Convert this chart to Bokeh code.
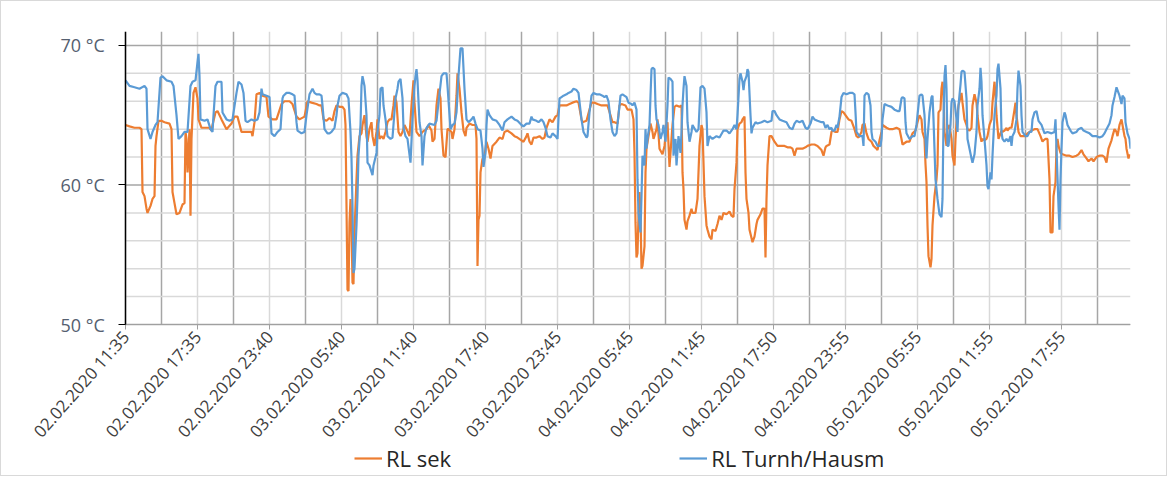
from bokeh.plotting import figure
from bokeh.models import Range1d, FixedTicker, Legend, LegendItem, ColumnDataSource, LinearAxis
from bokeh.embed import file_html
from bokeh.resources import INLINE

# category index (5-minute samples) of labelled ticks and their labels
x_tick_idx = [0, 72, 144, 216, 288, 360, 432, 504, 576, 648, 720, 792, 864, 936]
x_mid_idx = [36, 108, 180, 252, 324, 396, 468, 540, 612, 684, 756, 828, 900, 972]
x_tick_labels = ["02.02.2020 11:35", "02.02.2020 17:35", "02.02.2020 23:40",
                 "03.02.2020 05:40", "03.02.2020 11:40", "03.02.2020 17:40",
                 "03.02.2020 23:45", "04.02.2020 05:45", "04.02.2020 11:45",
                 "04.02.2020 17:50", "04.02.2020 23:55", "05.02.2020 05:55",
                 "05.02.2020 11:55", "05.02.2020 17:55"]
y_ticks = [50, 60, 70]
y_minor = [52, 54, 56, 58, 62, 64, 66, 68]
y_tick_labels = ["50 °C", "60 °C", "70 °C"]
y_min, y_max = 50, 71
n_samples = 1005

# RL sek  (sample index, °C)
sek_1 = [(0,64.3),(4,64.2),(9,64.1),(14,64.1),(16,64.0),(17,59.5),(19,59.2),(21,58.3),(22,58.0),(25,58.5),
         (27,59.0),(29,59.2),(30,62.8),(31,63.5),(33,64.6),(36,64.6),(39,64.5),(44,64.4),(46,64.0),(47,59.5),
         (49,58.7),(51,57.9),(54,58.0),(57,58.6),(59,58.7),(60,63.8),(61,63.3),(62,60.9),(64,64.0),(65,57.8),
         (66,63.3),(68,66.6),(70,67.0),(72,66.2),(73,64.7),(76,64.1),(81,64.1),(84,64.1),(86,63.9),(87,64.3),
         (90,65.2),(92,65.3),(96,64.7),(101,64.0),(106,64.4),(109,64.9),(112,64.9),(116,63.8),(121,63.8),(126,63.8),
         (127,63.5),(129,64.5),(131,66.5),(134,66.6),(137,66.4),(141,66.3),(143,64.9),(147,64.7),(151,64.7),(156,65.8),
         (159,66.0),(164,66.0),(167,65.8),(171,64.9),(174,64.7),(179,64.9),(182,66.0),(186,65.9),(191,65.8),(194,65.7),
         (196,65.7),(198,64.7),(201,64.6),(204,64.8)]
sek_2 = [(207,64.6),(209,65.3),(211,65.7),(214,65.6),(217,65.6),(219,65.4),(220,64.3),(221,58.5),(222,52.5),(223,52.4),
         (224,57.3),(225,59.0),(226,57.1),(227,53.0),(228,52.9),(229,56.6),(231,60.4),(232,62.1),(234,63.5),(236,63.7),
         (237,64.3),(239,65.0),(241,63.5),(242,63.1),(244,64.0),(246,64.5),(247,63.5),(249,62.8),(251,63.8),(252,64.7),
         (254,63.3),(256,63.5),(258,63.3),(260,63.8),(262,64.5),(264,64.7),(266,64.7),(268,65.7),(269,66.4),(271,65.9),
         (273,63.8),(275,63.5),(277,63.8),(279,64.3),(281,64.0),(284,63.5),(286,65.7),(288,67.5),(289,65.9),(291,63.8),
         (294,63.5),(297,63.8),(301,64.0),(303,64.3),(306,63.9),(307,63.1),(309,63.3),(311,65.7),(313,66.9),(315,66.2),
         (316,64.0),(318,62.1),(320,62.0),(322,64.0),(323,64.0),(326,63.8),(327,63.3),(329,64.0),(331,66.4),(332,68.0),
         (334,66.9),(336,65.2),(338,63.9),(340,63.5),(341,64.1),(344,64.4),(347,64.3),(350,64.3),(351,63.3),(352,54.2),
         (353,57.5),(354,57.8),(355,60.9),(357,61.9),(358,61.6),(360,62.6),(361,63.1),(363,62.6),(365,61.9),(367,62.8),
         (371,63.1),(374,63.4),(377,63.3),(379,63.8),(382,63.9),(386,63.7),(389,63.5),(392,63.4),(396,63.2),(398,63.1),
         (401,63.5),(402,63.7),(404,63.1)]
sek_3 = [(406,62.9),(408,63.4),(411,63.4),(414,63.5),(417,63.3),(419,63.4),(421,64.1),(424,64.7),(427,64.5),(430,64.9),
         (432,65.0),(434,65.7),(436,65.7),(441,65.7),(444,65.8),(447,65.9),(451,66.0),(453,65.9),(456,64.7),(457,64.5),
         (461,64.6),(464,65.4),(466,65.9),(469,65.9),(472,65.8),(476,65.7),(479,65.7),(482,65.7),(485,65.0),(487,64.5),
         (489,64.5),(492,64.4),(494,65.7),(496,65.8),(500,65.7),(502,65.4),(506,65.4),(508,64.7),(509,62.3),(510,57.3),
         (511,54.8),(512,55.1),(513,57.8),(514,59.5),(515,58.0),(516,54.0),(517,54.2),(519,55.6),(520,60.9),(521,62.6),
         (523,63.5),(525,64.4),(527,63.8),(528,63.3),(531,64.0),(532,64.7),(534,62.6),(537,62.2),(539,62.8),(541,64.3),
         (542,64.5),(544,61.3),(546,63.3),(547,64.3),(549,65.6),(551,65.7),(554,65.6),(556,65.7),(557,60.9),(558,59.7),
         (559,57.5),(561,56.8),(562,57.4),(564,57.8),(566,58.3),(567,58.0),(570,58.0),(572,59.0),(574,62.8),(576,64.3),
         (577,64.0),(579,59.2),(581,57.1),(582,56.8),(584,56.3),(586,56.1),(587,56.8),(590,56.7),(592,57.2),(594,57.8),
         (596,57.5),(598,58.0),(601,57.9),(604,58.1)]
sek_4 = [(606,57.8),(608,57.7),(609,59.7),(611,61.6),(612,64.0),(614,64.4),(616,64.5),(617,64.7),(619,64.9),(620,60.9),
         (621,59.0),(623,58.0),(624,56.8),(626,56.2),(627,55.9),(629,56.3),(631,57.2),(632,57.5),(635,57.9),(637,58.3),
         (639,58.3),(640,54.8),(641,59.0),(642,61.4),(644,63.5),(646,63.5),(649,63.1),(652,62.8),(656,62.8),(659,62.8),
         (662,62.7),(665,62.7),(667,62.6),(669,62.1),(671,62.6),(674,62.6),(677,62.6),(680,62.7),(682,62.8),(686,62.9),
         (689,62.9),(692,62.8),(696,62.5),(698,62.1),(700,62.7),(701,62.8),(704,62.9),(706,63.8),(707,63.9),(710,63.8),
         (712,63.8),(714,64.7),(716,65.3),(718,65.2),(721,64.9),(723,64.7),(726,64.6),(727,64.4),(729,64.0),(731,63.5),
         (733,63.4),(736,63.8),(737,64.3),(739,64.4),(741,63.7),(743,63.3),(746,63.1),(748,62.8),(751,62.6),(752,62.5),
         (754,63.2),(756,63.8),(757,64.3),(761,64.1),(764,64.0),(767,64.0),(771,64.1),(774,64.0),(776,63.3),(777,62.9),
         (781,63.1),(784,63.1),(787,63.7),(790,63.9),(792,64.5)]
sek_5 = [(794,65.0),(796,64.7),(797,63.8),(799,63.3),(800,61.5),(801,60.2),(802,57.1),(803,54.9),(805,54.1),(806,54.7),
         (807,57.1),(809,59.2),(811,60.4),(812,61.4),(813,65.2),(815,65.4),(816,66.9),(817,67.4),(818,66.4),(819,63.8),
         (821,62.8),(822,64.0),(824,64.3),(826,63.3),(827,62.1),(829,61.4),(830,63.3),(831,64.5),(833,65.7),(836,66.6),
         (837,65.9),(839,64.7),(841,64.3),(842,64.0),(844,63.9),(846,64.1),(847,65.7),(849,66.5),(851,65.9),(852,65.0),
         (854,63.8),(856,63.1),(857,63.3),(859,63.2),(861,63.3),(862,63.5),(864,64.3),(866,64.7),(867,65.9),(869,67.4),
         (870,66.4),(871,65.0),(873,63.3),(876,63.9),(877,63.8),(879,63.9),(881,64.1),(882,63.9),(884,64.1),(886,64.1),
         (887,64.5),(889,65.4),(890,65.9),(891,65.0),(893,63.8),(895,63.5),(897,63.5),(900,63.5),(902,63.7),(906,63.9),
         (909,64.0),(912,64.0),(915,63.5),(917,63.1),(918,63.2),(920,63.3),(922,63.3),(924,60.4),(925,56.6),(927,56.6),
         (928,59.2),(930,60.2),(931,62.8),(932,63.3),(933,62.8),(935,62.3),(937,62.2),(941,62.1),(944,62.1),(947,62.0),
         (951,62.1),(953,62.2),(956,62.5),(958,62.2),(961,61.9),(963,61.7),(966,61.9),(968,61.7),(971,62.0),(974,62.1),
         (977,62.1),(979,62.0),(981,61.6),(983,62.6),(986,63.2),(987,63.5),(989,64.0),(991,63.8),(992,63.5),(994,64.3),
         (996,64.7),(997,64.3),(999,63.5),(1000,63.3),(1001,62.6),(1003,61.9),(1004,62.2)]

# RL Turnh/Hausm  (sample index, °C)
turnh_1 = [(0,67.5),(4,67.1),(9,67.0),(14,66.9),(19,67.1),(21,66.9),(22,64.0),(25,63.3),(27,63.8),(30,64.3),
           (32,64.5),(35,67.7),(37,67.8),(41,67.5),(46,67.4),(48,67.1),(51,65.0),(53,63.3),(56,63.5),(59,63.8),
           (62,63.8),(65,67.1),(67,67.4),(70,67.5),(72,68.8),(73,69.4),(74,67.8),(75,64.7),(79,64.6),(82,64.7),
           (85,64.0),(87,63.8),(88,65.0),(90,67.1),(92,67.4),(96,67.4),(97,65.2),(101,64.7),(104,64.6),(107,64.7),
           (111,66.6),(113,67.4),(116,67.2),(118,66.6),(120,64.6),(122,64.5),(126,64.7),(129,64.6),(132,64.7),(134,65.2),
           (136,66.9),(137,66.5),(141,66.4),(144,66.3),(146,63.7),(149,63.5),(152,63.8),(155,64.0),(157,66.2),(158,66.4),
           (161,66.6),(164,66.6),(167,66.5),(169,66.4),(171,64.5),(172,63.9),(176,63.7),(179,63.8),(181,65.0),(184,66.5),
           (187,66.9),(189,66.6),(191,66.5),(194,66.5),(196,66.4),(197,65.7),(199,64.0),(202,63.7),(204,63.7)]
turnh_2 = [(206,63.8),(209,64.1),(211,65.0),(212,65.7),(214,66.4),(217,66.6),(221,66.5),(223,66.2),(225,63.8),(226,61.9),
           (227,58.5),(228,53.7),(229,54.0),(231,57.1),(232,59.2),(233,62.1),(235,64.3),(236,67.1),(237,67.8),(239,67.1),
           (241,65.0),(242,61.6),(244,61.4),(247,60.7),(248,61.4),(251,62.3),(252,63.8),(254,65.0),(255,66.9),(257,67.0),
           (258,65.7),(260,64.7),(262,63.5),(265,63.3),(267,63.4),(270,66.2),(272,66.9),(273,67.4),(275,67.6),(277,66.2),
           (278,64.1),(280,63.5),(282,63.3),(285,61.6),(287,64.7),(289,67.1),(290,67.8),(291,68.3),(292,67.5),(294,64.5),
           (296,63.5),(297,61.4),(299,63.5),(301,64.1),(304,64.4),(309,64.3),(311,64.6),(313,65.9),(316,67.8),(318,68.0),
           (321,68.0),(322,67.1),(325,64.0),(327,64.3),(329,64.4),(331,65.2),(333,67.8),(335,69.8),(337,69.8),(339,66.9),
           (341,64.7),(343,64.5),(346,64.7),(348,64.9),(350,64.4),(352,64.0),(355,63.9),(357,62.6),(358,61.3),(360,62.3),
           (361,64.3),(362,65.4),(364,65.0),(367,64.7),(371,64.6),(374,64.3),(377,63.9),(379,64.5),(382,64.7),(386,64.9),
           (389,64.7),(392,64.6),(396,64.3),(398,64.2),(401,64.4),(404,64.4)]
turnh_3 = [(406,64.9),(407,64.7),(411,64.6),(413,64.5),(416,64.7),(418,64.5),(420,64.1),(422,63.5),(425,63.4),(427,63.7),
           (430,63.5),(432,63.3),(434,66.2),(436,66.3),(438,66.4),(441,66.5),(443,66.6),(446,66.7),(448,66.9),(451,66.8),
           (453,66.6),(456,64.7),(458,63.8),(461,63.4),(462,63.5),(464,65.2),(466,66.4),(468,66.6),(471,66.5),(474,66.5),
           (477,66.4),(479,66.3),(481,66.4),(483,66.0),(485,64.7),(487,63.8),(489,63.5),(491,63.7),(493,65.0),(495,66.4),
           (497,66.5),(501,66.3),(503,65.9),(506,65.8),(507,65.7),(509,65.9),(511,65.4),(512,60.4),(513,58.0),(515,56.6),
           (516,59.2),(517,62.1),(519,61.4),(520,64.0),(521,62.6),(522,63.3),(524,64.3),(525,66.4),(526,68.3),(527,68.4),
           (529,68.3),(530,65.7),(531,64.7),(533,64.3),(535,63.3),(537,63.8),(538,64.3),(540,63.1),(542,65.7),(543,67.7),
           (545,67.6),(547,67.4),(548,62.1),(550,63.3),(551,61.4),(553,63.5),(555,62.3),(556,63.8),(557,65.7),(558,66.9),
           (559,67.8),(561,67.1),(562,64.5),(564,63.1),(566,63.8),(567,64.3),(571,63.8),(573,64.0),(575,67.0),(577,67.1),
           (579,66.9),(581,65.2),(582,62.8),(584,63.5),(587,63.3),(591,63.5),(594,63.4),(598,63.9),(601,63.9),(604,63.7)]
turnh_4 = [(607,64.0),(609,64.3),(611,64.0),(612,65.0),(614,67.6),(615,68.0),(617,67.4),(618,66.8),(619,67.4),(621,67.8),
           (622,68.3),(623,68.1),(625,65.0),(626,63.7),(627,64.1),(630,64.5),(632,64.4),(636,64.5),(639,64.6),(642,64.5),
           (646,64.6),(647,65.3),(649,65.3),(651,65.0),(654,64.7),(657,64.6),(661,64.5),(664,64.1),(667,64.0),(669,64.4),
           (671,64.6),(674,64.5),(677,64.6),(680,64.1),(682,64.0),(685,64.4),(687,64.9),(689,64.7),(692,64.6),(696,64.5),
           (698,64.5),(700,64.1),(702,64.3),(704,64.0),(706,64.1),(707,63.9),(709,63.9),(711,64.3),(712,64.1),(714,64.9),
           (716,66.3),(718,66.6),(721,66.5),(724,66.6),(727,66.6),(729,66.5),(730,65.2),(731,63.8),(734,63.5),(737,63.5),
           (738,62.8),(739,66.4),(741,66.6),(743,66.5),(745,65.7),(746,63.8),(747,63.3),(750,63.1),(752,62.8),(755,62.8),
           (756,63.3),(757,64.7),(759,65.8),(762,65.7),(766,65.6),(769,65.4),(772,65.3),(774,65.3),(776,66.2),(777,66.3),
           (779,66.2),(780,64.5),(781,63.7),(784,63.3),(787,63.5),(789,63.5),(791,64.3),(792,65.0)]
turnh_5 = [(794,66.4),(796,66.5),(797,66.4),(799,65.0),(800,63.3),(801,61.9),(802,63.3),(804,65.2),(806,66.3),(807,66.4),
           (808,64.7),(810,60.4),(812,59.0),(814,57.9),(816,57.7),(817,59.0),(818,64.5),(819,67.8),(820,68.6),(821,66.9),
           (822,62.8),(823,62.8),(825,64.3),(826,65.9),(827,66.2),(829,66.0),(831,64.7),(832,63.8),(833,65.7),(835,67.2),
           (836,68.1),(837,68.2),(839,68.1),(841,66.2),(842,63.3),(844,62.6),(846,61.9),(847,61.6),(849,62.2),(851,63.8),
           (852,65.7),(854,66.9),(855,68.4),(856,67.4),(857,65.0),(859,63.3),(861,61.4),(862,59.9),(863,59.7),(865,60.9),
           (866,60.4),(867,62.1),(869,65.0),(871,66.4),(872,68.3),(873,68.7),(875,66.9),(876,63.8),(877,63.3),(879,63.1),
           (881,63.3),(883,63.1),(885,63.5),(886,62.8),(887,63.5),(889,63.8),(891,64.7),(892,66.9),(893,68.2),(895,67.1),
           (896,65.0),(897,63.8),(900,63.5),(902,63.5),(904,63.8),(906,63.8),(907,64.7),(909,65.2),(911,65.3),(913,64.6),
           (916,64.3),(919,63.7),(922,63.8),(926,63.7),(929,63.8),(930,64.7),(931,62.6),(933,58.5),(934,56.8),(935,60.4),
           (936,62.6),(937,64.5),(939,65.2),(940,65.0),(942,64.3),(945,63.9),(947,63.7),(951,63.8),(953,64.0),(956,64.1),
           (958,63.9),(961,63.8),(964,63.7),(967,63.5),(971,63.5),(974,63.4),(977,63.5),(979,63.7),(981,64.0),(984,64.4),
           (986,65.0),(987,65.7),(989,66.3),(991,67.0),(992,66.8),(994,66.4),(996,65.8),(997,66.4),(999,66.2),(1000,64.5),
           (1002,63.7),(1004,63.3),(1005,62.6)]

series_names = ["RL sek", "RL Turnh/Hausm"]
series_colors = ["#ed7d31", "#5b9bd5"]


def to_source(*segments):
    pts = [pt for seg in segments for pt in seg]
    return ColumnDataSource(data=dict(x=[p[0] for p in pts], y=[p[1] for p in pts]))


# The frame reaches left to the first tick label and down to the legend;
# the 50-71 °C band keeps 13.95 px per °C and one sample per pixel.
FRAME_LEFT_PX, AXIS_X_PX, FRAME_RIGHT_PX = 20, 126, 1131
FRAME_TOP_PX, AXIS_Y_PX, FRAME_BOTTOM_PX = 32, 325, 476
px_per_deg = (AXIS_Y_PX - FRAME_TOP_PX) / (y_max - y_min)
y_start = y_min - (FRAME_BOTTOM_PX - AXIS_Y_PX) / px_per_deg
px_per_sample = (FRAME_RIGHT_PX - AXIS_X_PX) / n_samples
x_start = -(AXIS_X_PX - FRAME_LEFT_PX) / px_per_sample

p = figure(frame_width=FRAME_RIGHT_PX - FRAME_LEFT_PX, frame_height=FRAME_BOTTOM_PX - FRAME_TOP_PX,
           output_backend="svg", toolbar_location=None,
           x_range=Range1d(x_start, n_samples), y_range=Range1d(y_start, y_max),
           x_axis_location=None, y_axis_location=None,
           min_border_left=FRAME_LEFT_PX - 2, min_border_right=36, min_border_top=30, min_border_bottom=0,
           background_fill_color="white", border_fill_color="white")
p.outline_line_color = None
p.grid.visible = False
p.styles = {"border": "1px solid #d9d9d9"}

# vertical grid lines (only across the 50-71 °C band)
p.segment(x0=x_tick_idx, x1=x_tick_idx, y0=[y_min] * len(x_tick_idx), y1=[y_max] * len(x_tick_idx),
          line_color="#d9d9d9", line_width=1.5, level="underlay")
p.segment(x0=x_mid_idx, x1=x_mid_idx, y0=[y_min] * len(x_mid_idx), y1=[y_max] * len(x_mid_idx),
          line_color="#a6a6a6", line_width=1.5, level="underlay")
# horizontal grid lines
p.segment(x0=[0] * len(y_minor), x1=[n_samples] * len(y_minor), y0=y_minor, y1=y_minor,
          line_color="#d9d9d9", line_width=1.5, level="underlay")
p.segment(x0=[0] * len(y_ticks), x1=[n_samples] * len(y_ticks), y0=y_ticks, y1=y_ticks,
          line_color="#a6a6a6", line_width=1.5, level="underlay")

r_sek = p.line("x", "y", source=to_source(sek_1, sek_2, sek_3, sek_4, sek_5),
               line_color=series_colors[0], line_width=2.2)
r_turnh = p.line("x", "y", source=to_source(turnh_1, turnh_2, turnh_3, turnh_4, turnh_5),
                 line_color=series_colors[1], line_width=2.2)

# x axis drawn at 50 °C
x_ticker = FixedTicker(ticks=x_tick_idx, minor_ticks=x_mid_idx)
xa = LinearAxis(ticker=x_ticker, fixed_location=y_min, bounds=(0, n_samples))
xa.major_label_overrides = {t: lab for t, lab in zip(x_tick_idx, x_tick_labels)}
xa.major_label_orientation = 0.85
xa.major_label_text_font = "Open Sans"
xa.major_label_text_font_size = "17px"
xa.major_label_text_color = "#404040"
xa.axis_line_color = "#a0a0a0"
xa.major_tick_line_color = "#a0a0a0"
xa.major_tick_out = 5
xa.major_tick_in = 0
xa.minor_tick_out = 0
xa.minor_tick_in = 0
xa.major_label_standoff = 4
p.add_layout(xa, "below")

# y axis drawn at sample 0; its labels sit to the left of the axis line
ya = LinearAxis(ticker=FixedTicker(ticks=y_ticks, minor_ticks=y_minor),
                fixed_location=0, bounds=(y_min, y_max))
ya.major_label_overrides = {t: lab for t, lab in zip(y_ticks, y_tick_labels)}
ya.major_label_text_font = "Open Sans"
ya.major_label_text_font_size = "18px"
ya.major_label_text_color = "#556070"
ya.axis_line_color = "black"
ya.axis_line_width = 1.5
ya.major_tick_line_color = "black"
ya.major_tick_out = 0
ya.major_tick_in = 7
ya.minor_tick_out = 0
ya.minor_tick_in = 0
ya.major_label_standoff = -65
p.add_layout(ya, "right")

legend = Legend(items=[LegendItem(label=series_names[0], renderers=[r_sek]),
                       LegendItem(label=series_names[1], renderers=[r_turnh])],
                orientation="horizontal", location=(355 - FRAME_LEFT_PX, 2), spacing=228,
                glyph_width=28, glyph_height=20, label_standoff=4,
                label_text_font="Open Sans", label_text_font_size="22px",
                label_text_color="#262626", border_line_color=None,
                background_fill_alpha=0, margin=0, padding=0)
p.add_layout(legend)

open("out.html", "w").write(file_html(p, INLINE))
